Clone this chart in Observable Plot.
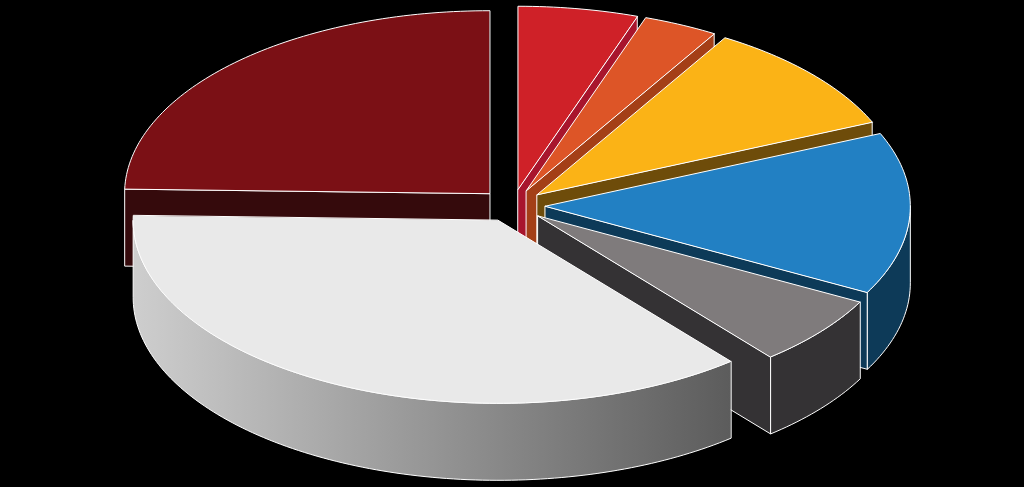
<!DOCTYPE html>
<html>
<head>
<meta charset="utf-8">
<script src="https://cdn.jsdelivr.net/npm/d3@7"></script>
<script src="https://cdn.jsdelivr.net/npm/@observablehq/plot@0.6"></script>
<style>
html,body{margin:0;padding:0;background:#000;overflow:hidden}
svg{display:block}
</style>
</head>
<body>
<div id="chart"></div>
<script>
// Shares of the pie, clockwise from 12 o'clock (percent)
const categories = ["Red", "Orange", "Yellow", "Blue", "Gray", "Light", "Maroon"];
const shares = [5.3, 3.3, 9.9, 14.3, 6.2, 36.4, 24.6];
const topColors = ["#cf2128", "#dd5527", "#fbb316", "#2280c3", "#7f7b7c", "#e9e9e9", "#7b1015"];
const sideColors = ["#a8152d", "#a43f17", "#6e4c0a", "#0d3a58", "#343234", "url(#lightWall)", "#350a0c"];
// Paint order, back to front
const paintOrder = [6, 0, 1, 2, 3, 4, 5];

// Projection of the tilted pie
const cx = 512, cy = 205, rx = 365, ry = 183, depth = 77, explode = 0.09;

const arcs = d3.pie().sort(null).value(d => d)(shares);
const rows = [];
const domain = [], range = [];
let partId = 0;

function addPart(points, key, color) {
  const id = partId++;
  domain.push(key);
  range.push(color);
  points.forEach(([x, y]) => rows.push({id, key, x, y}));
}
function sample(a0, a1) {
  const n = Math.max(2, Math.ceil(Math.abs(a1 - a0) / 0.02));
  return d3.range(n + 1).map(i => a0 + (a1 - a0) * i / n);
}

paintOrder.forEach(i => {
  const arc = arcs[i];
  const mid = (arc.startAngle + arc.endAngle) / 2;
  const ax = cx + explode * rx * Math.sin(mid);
  const ay = cy - explode * ry * Math.cos(mid);
  const rim = a => [ax + rx * Math.sin(a), ay - ry * Math.cos(a)];
  const drop = ([x, y]) => [x, y + depth];
  const radial = a => {
    const p = rim(a);
    addPart([[ax, ay], p, drop(p), [ax, ay + depth]], categories[i] + " side " + partId, sideColors[i]);
  };
  // only the walls that face the viewer
  if (Math.sin(arc.startAngle) < 0) radial(arc.startAngle);
  if (Math.sin(arc.endAngle) > 0) radial(arc.endAngle);
  const a0 = Math.max(arc.startAngle, Math.PI / 2);
  const a1 = Math.min(arc.endAngle, 3 * Math.PI / 2);
  if (a1 > a0) {
    const edge = sample(a0, a1).map(rim);
    addPart([...edge, ...edge.slice().reverse().map(drop)], categories[i] + " rim", sideColors[i]);
  }
  addPart([[ax, ay], ...sample(arc.startAngle, arc.endAngle).map(rim)], categories[i] + " top", topColors[i]);
});

const gradient = () => {
  const defs = d3.create("svg:defs");
  const g = defs.append("linearGradient").attr("id", "lightWall");
  g.append("stop").attr("offset", "0%").attr("stop-color", "#cecece");
  g.append("stop").attr("offset", "100%").attr("stop-color", "#5c5c5c");
  return defs.node();
};

const chart = Plot.plot({
  width: 1024,
  height: 487,
  margin: 0,
  style: {background: "#000"},
  x: {domain: [0, 1024], range: [0, 1024], axis: null},
  y: {domain: [0, 487], range: [0, 487], axis: null},
  color: {type: "ordinal", domain, range},
  marks: [
    gradient,
    Plot.line(rows, {
      x: "x", y: "y", z: "id", fill: "key",
      stroke: "white", strokeWidth: 1, strokeLinejoin: "miter",
      curve: "linear-closed"
    })
  ]
});
document.getElementById("chart").append(chart);
</script>
</body>
</html>
